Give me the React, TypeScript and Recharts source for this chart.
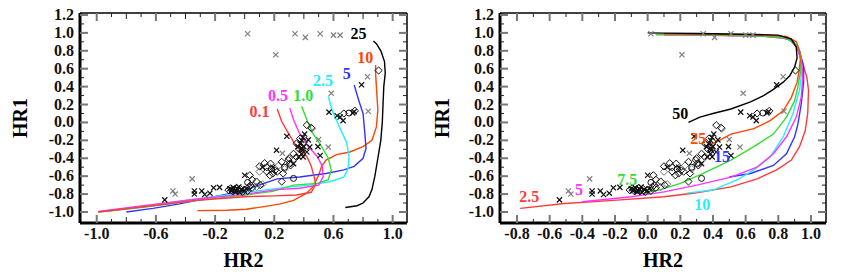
import { ScatterChart, Scatter, XAxis, YAxis } from "recharts";

const FONT = '"Liberation Serif", "Times New Roman", serif';

// axis ticks
const yTicks = [-1.0, -0.9, -0.8, -0.7, -0.6, -0.5, -0.4, -0.3, -0.2, -0.1, 0.0, 0.1, 0.2, 0.3, 0.4, 0.5, 0.6, 0.7, 0.8, 0.9, 1.0, 1.1, 1.2];
const yLabels = [-1.0, -0.8, -0.6, -0.4, -0.2, 0.0, 0.2, 0.4, 0.6, 0.8, 1.0, 1.2];
const leftXTicks = [-1.0, -0.9, -0.8, -0.7, -0.6, -0.5, -0.4, -0.3, -0.2, -0.1, 0.0, 0.1, 0.2, 0.3, 0.4, 0.5, 0.6, 0.7, 0.8, 0.9, 1.0];
const leftXLabels = [-1.0, -0.6, -0.2, 0.2, 0.6, 1.0];
const rightXTicks = [-0.8, -0.7, -0.6, -0.5, -0.4, -0.3, -0.2, -0.1, 0.0, 0.1, 0.2, 0.3, 0.4, 0.5, 0.6, 0.7, 0.8, 0.9, 1.0];
const rightXLabels = [-0.8, -0.6, -0.4, -0.2, 0.0, 0.2, 0.4, 0.6, 0.8, 1.0];

// observed sources (same in both panels)
const grayCrosses = [
  [0.02, 0.99], [0.34, 0.99], [0.41, 0.95], [0.51, 0.99], [0.6, 0.975], [0.645, 0.975], [0.21, 0.755],
  [0.585, 0.325], [0.835, 0.125], [0.83, 0.51], [0.565, -0.275], [0.5, -0.19], [-0.355, -0.63],
  [-0.485, -0.765], [-0.47, -0.8], [0.255, -0.345],
];
const blackCrosses = [
  [0.79, 0.42], [0.74, 0.12], [0.73, 0.105], [0.645, 0.06], [0.665, 0.02], [0.625, 0.075], [0.57, 0.115],
  [0.51, -0.37], [0.495, -0.27], [0.44, -0.275], [0.43, -0.195], [0.285, -0.155], [0.215, -0.31],
  [0.36, -0.27], [0.375, -0.24], [0.385, -0.2], [0.395, -0.165], [0.405, -0.13], [0.385, -0.29],
  [0.385, -0.35], [0.365, -0.385], [0.395, -0.385], [0.42, -0.33], [0.39, -0.31], [0.4, -0.27],
  [-0.54, -0.865], [-0.34, -0.765], [-0.34, -0.8], [-0.29, -0.765], [-0.27, -0.805], [-0.235, -0.79],
  [-0.21, -0.73], [-0.17, -0.725], [0.0, -0.59], [0.12, -0.5], [0.19, -0.5], [0.33, -0.46],
  [-0.1, -0.74], [-0.09, -0.765], [-0.075, -0.73], [-0.065, -0.775], [-0.05, -0.745], [-0.04, -0.72],
  [-0.035, -0.78], [-0.02, -0.75], [-0.005, -0.765], [0.01, -0.74], [-0.085, -0.75], [-0.06, -0.76],
];
const blackDiamonds = [
  [0.905, 0.58], [0.67, 0.1], [0.745, 0.13], [0.42, -0.03], [0.45, -0.06], [0.35, -0.235], [0.4, -0.22],
  [0.35, -0.385], [0.15, -0.5], [0.175, -0.46], [0.205, -0.535], [0.25, -0.44], [0.26, -0.57], [0.15, -0.55],
  [0.17, -0.59], [0.295, -0.42], [0.305, -0.46], [0.25, -0.66], [0.035, -0.59], [0.05, -0.64], [0.08, -0.66],
  [0.105, -0.7], [0.1, -0.49], [0.135, -0.455], [0.31, -0.48], [0.3, -0.4], [0.37, -0.3], [0.375, -0.18],
  [0.33, -0.35], [0.22, -0.55], [0.19, -0.57],
  [-0.11, -0.755], [-0.095, -0.735], [-0.08, -0.77], [-0.07, -0.745], [-0.055, -0.73], [-0.045, -0.765],
  [-0.03, -0.74], [-0.015, -0.775], [0.0, -0.75], [-0.065, -0.755], [0.02, -0.765], [0.03, -0.72],
  [0.05, -0.73], [0.04, -0.7],
];
const grayDiamonds = [
  [0.455, -0.07], [0.31, -0.45], [0.12, -0.69], [0.27, -0.52], [0.23, -0.48], [0.08, -0.72], [0.385, -0.32], [0.1, -0.55],
];
const circles = [[0.33, -0.625], [0.705, 0.105], [0.02, -0.67], [0.27, -0.5], [0.18, -0.52]];

// model tracks, left panel
const leftBlack = [[0.68, -0.95], [0.76, -0.93], [0.8, -0.9], [0.84, -0.83], [0.86, -0.75], [0.88, -0.6], [0.9, -0.4], [0.92, -0.2], [0.93, 0.0], [0.935, 0.2], [0.94, 0.4], [0.95, 0.55], [0.945, 0.68], [0.92, 0.8], [0.89, 0.88], [0.87, 0.91]];
const leftOrange = [[-0.32, -0.985], [-0.12, -0.98], [0.01, -0.97], [0.13, -0.94], [0.24, -0.91], [0.33, -0.87], [0.42, -0.79], [0.46, -0.72], [0.5, -0.59], [0.52, -0.49], [0.55, -0.42], [0.62, -0.36], [0.71, -0.33], [0.8, -0.27], [0.86, -0.2], [0.89, -0.05], [0.9, 0.14], [0.89, 0.4], [0.885, 0.55], [0.885, 0.64]];
const leftBlue = [[-0.8, -1.0], [-0.62, -0.96], [-0.44, -0.91], [-0.3, -0.86], [-0.12, -0.8], [0.0, -0.76], [0.08, -0.71], [0.15, -0.67], [0.22, -0.63], [0.37, -0.61], [0.55, -0.57], [0.67, -0.53], [0.74, -0.49], [0.8, -0.4], [0.82, -0.29], [0.81, -0.08], [0.8, 0.1], [0.77, 0.25], [0.74, 0.42]];
const leftCyan = [[-0.92, -0.99], [-0.62, -0.92], [-0.35, -0.86], [-0.12, -0.81], [0.06, -0.77], [0.18, -0.745], [0.28, -0.725], [0.44, -0.7], [0.58, -0.66], [0.67, -0.61], [0.7, -0.51], [0.705, -0.38], [0.69, -0.23], [0.64, -0.05], [0.59, 0.14], [0.565, 0.29]];
const leftGreen = [[-0.99, -1.0], [-0.7, -0.95], [-0.32, -0.87], [0.01, -0.81], [0.19, -0.77], [0.33, -0.7], [0.49, -0.68], [0.565, -0.64], [0.585, -0.53], [0.565, -0.4], [0.52, -0.27], [0.46, -0.12], [0.42, 0.03], [0.385, 0.18]];
const leftMagenta = [[-0.99, -0.995], [-0.71, -0.935], [-0.32, -0.855], [0.01, -0.8], [0.22, -0.75], [0.37, -0.735], [0.5, -0.7], [0.53, -0.61], [0.525, -0.49], [0.49, -0.38], [0.43, -0.27], [0.37, -0.12], [0.33, 0.03], [0.305, 0.16]];
const leftRed = [[-0.99, -1.0], [-0.7, -0.945], [-0.32, -0.87], [0.0, -0.83], [0.2, -0.82], [0.35, -0.81], [0.45, -0.78], [0.48, -0.69], [0.47, -0.61], [0.45, -0.49], [0.42, -0.38], [0.35, -0.27], [0.295, -0.12], [0.25, 0.01], [0.22, 0.15]];

// model tracks, right panel
const rightBlack = [[0.0, 1.0], [0.1, 0.997], [0.3, 0.993], [0.6, 0.985], [0.8, 0.975], [0.88, 0.93], [0.91, 0.84], [0.915, 0.72], [0.9, 0.62], [0.87, 0.52], [0.83, 0.45], [0.77, 0.37], [0.71, 0.3], [0.63, 0.23], [0.51, 0.15], [0.4, 0.1], [0.32, 0.06], [0.25, 0.0]];
const rightOrange = [[0.1, 0.99], [0.4, 0.985], [0.7, 0.975], [0.85, 0.96], [0.91, 0.9], [0.93, 0.8], [0.935, 0.7], [0.925, 0.55], [0.915, 0.45], [0.88, 0.28], [0.83, 0.13], [0.75, 0.02], [0.65, -0.07], [0.51, -0.13], [0.44, -0.2], [0.38, -0.25]];
const rightGreen = [[0.05, 0.98], [0.4, 0.975], [0.7, 0.965], [0.85, 0.94], [0.92, 0.85], [0.94, 0.72], [0.935, 0.55], [0.92, 0.4], [0.9, 0.24], [0.85, 0.06], [0.77, -0.13], [0.65, -0.27], [0.51, -0.42], [0.34, -0.57], [0.2, -0.68], [0.08, -0.75], [-0.02, -0.79]];
const rightMagenta = [[-0.4, -0.885], [-0.1, -0.83], [0.1, -0.775], [0.3, -0.7], [0.51, -0.61], [0.67, -0.5], [0.77, -0.35], [0.85, -0.16], [0.91, 0.06], [0.94, 0.28], [0.95, 0.5], [0.945, 0.65], [0.92, 0.82], [0.87, 0.93], [0.7, 0.965], [0.4, 0.972], [0.1, 0.975]];
const rightCyan = [[0.24, -0.79], [0.4, -0.755], [0.55, -0.64], [0.65, -0.53], [0.75, -0.385], [0.83, -0.16], [0.89, 0.1], [0.93, 0.36], [0.945, 0.58], [0.935, 0.75], [0.91, 0.87], [0.85, 0.945], [0.7, 0.97], [0.4, 0.978], [0.1, 0.98]];
const rightBlue = [[0.5, -0.61], [0.63, -0.57], [0.77, -0.48], [0.85, -0.35], [0.9, -0.16], [0.92, -0.02], [0.94, 0.2], [0.955, 0.45], [0.955, 0.62], [0.93, 0.8], [0.89, 0.91], [0.8, 0.96], [0.5, 0.975], [0.2, 0.98]];
const rightRed = [[-0.78, -0.96], [-0.51, -0.905], [-0.21, -0.87], [0.1, -0.83], [0.3, -0.785], [0.51, -0.72], [0.67, -0.63], [0.79, -0.53], [0.88, -0.42], [0.93, -0.27], [0.965, -0.09], [0.98, 0.1], [0.985, 0.36], [0.975, 0.5], [0.945, 0.69], [0.91, 0.85], [0.86, 0.94], [0.7, 0.965], [0.3, 0.975], [0.05, 0.98]];

const RED = "#ff3a3a";
const ORANGE = "#ff4500";
const BLUE = "#3333ff";
const CYAN = "#22eeff";
const GREEN = "#33dd33";
const MAGENTA = "#ff33ff";

const leftCurves = [
  { data: leftBlack, color: "#000" },
  { data: leftOrange, color: ORANGE },
  { data: leftBlue, color: BLUE },
  { data: leftCyan, color: CYAN },
  { data: leftGreen, color: GREEN },
  { data: leftMagenta, color: MAGENTA },
  { data: leftRed, color: RED },
];
const rightCurves = [
  { data: rightRed, color: RED },
  { data: rightBlue, color: BLUE },
  { data: rightCyan, color: CYAN },
  { data: rightMagenta, color: MAGENTA },
  { data: rightGreen, color: GREEN },
  { data: rightOrange, color: ORANGE },
  { data: rightBlack, color: "#000" },
];

const leftTags = [
  { x: 0.77, y: 0.985, text: "25", color: "#000" },
  { x: 0.815, y: 0.725, text: "10", color: ORANGE },
  { x: 0.69, y: 0.54, text: "5", color: BLUE },
  { x: 0.53, y: 0.465, text: "2.5", color: CYAN },
  { x: 0.395, y: 0.3, text: "1.0", color: GREEN },
  { x: 0.225, y: 0.3, text: "0.5", color: MAGENTA },
  { x: 0.1, y: 0.115, text: "0.1", color: RED },
];
const rightTags = [
  { x: 0.2, y: 0.095, text: "50", color: "#000" },
  { x: 0.31, y: -0.18, text: "25", color: ORANGE },
  { x: 0.455, y: -0.385, text: "15", color: BLUE },
  { x: 0.335, y: -0.92, text: "10", color: CYAN },
  { x: -0.125, y: -0.645, text: "7.5", color: GREEN },
  { x: -0.42, y: -0.755, text: "5", color: MAGENTA },
  { x: -0.725, y: -0.83, text: "2.5", color: RED },
];

const pts = (a: number[][]) => a.map(([x, y]) => ({ x, y }));
const has = (list: number[], v: number) => list.some((l) => Math.abs(l - v) < 1e-6);
const fmt = (v: number) => (Math.abs(v) < 1e-9 ? "0.0" : v.toFixed(1));

function tickStyle(labels: number[], v: number, evenMedium: boolean) {
  if (has(labels, v)) return { len: 8, stroke: "#777", w: 2 };
  const even = Math.round(v * 10) % 2 === 0;
  return { len: even && evenMedium ? 6 : 4, stroke: "#222", w: 1 };
}

const labelText = { fontFamily: FONT, fontWeight: "bold" as const, fontSize: 16, fill: "#111" };

function BottomTick({ x, y, payload, labels }: any) {
  const v = payload.value;
  const s = tickStyle(labels, v, true);
  return (
    <g>
      <line x1={x} y1={y} x2={x} y2={y - s.len} stroke={s.stroke} strokeWidth={s.w} />
      {has(labels, v) && (
        <text x={x} y={y + 16} textAnchor="middle" {...labelText}>{fmt(v)}</text>
      )}
    </g>
  );
}

function TopTick({ x, y, payload, labels }: any) {
  const s = tickStyle(labels, payload.value, true);
  return <line x1={x} y1={y} x2={x} y2={y + s.len} stroke={s.stroke} strokeWidth={s.w} />;
}

function LeftTick({ x, y, payload }: any) {
  const v = payload.value;
  const s = tickStyle(yLabels, v, false);
  return (
    <g>
      <line x1={x} y1={y} x2={x + s.len} y2={y} stroke={s.stroke} strokeWidth={s.w} />
      {has(yLabels, v) && (
        <text x={x - 6} y={y + 5} textAnchor="end" {...labelText}>{fmt(v)}</text>
      )}
    </g>
  );
}

function RightTick({ x, y, payload }: any) {
  const s = tickStyle(yLabels, payload.value, false);
  return <line x1={x} y1={y} x2={x - s.len} y2={y} stroke={s.stroke} strokeWidth={s.w} />;
}

const Nothing = () => <g />;

const makeMark = (kind: string, color: string) => (p: any) => {
  const { cx, cy } = p;
  if (kind === "cross") {
    const r = 2.6;
    return <path d={`M${cx - r},${cy - r}L${cx + r},${cy + r}M${cx - r},${cy + r}L${cx + r},${cy - r}`} stroke={color} strokeWidth={1.2} fill="none" />;
  }
  if (kind === "diamond") {
    const r = 3.6;
    return <path d={`M${cx},${cy - r}L${cx + r},${cy}L${cx},${cy + r}L${cx - r},${cy}Z`} stroke={color} strokeWidth={1} fill="none" />;
  }
  return <circle cx={cx} cy={cy} r={3} stroke={color} strokeWidth={1} fill="none" />;
};

const TagShape = (p: any) => (
  <text x={p.cx} y={p.cy + 5} textAnchor="middle" fontFamily={FONT} fontWeight="bold" fontSize={16} fill={p.payload.color}>
    {p.payload.text}
  </text>
);

function HR1({ viewBox, shift }: any) {
  const cx = viewBox.x + shift;
  const cy = viewBox.y + viewBox.height / 2;
  return (
    <text x={cx} y={cy} transform={`rotate(-90 ${cx} ${cy})`} textAnchor="middle" dominantBaseline="central"
      fontFamily={FONT} fontWeight="bold" fontSize={20} fill="#000">
      HR1
    </text>
  );
}

function Panel({ width, yAxisWidth, marginRight, xDomain, xTicks, xLabels, curves, tags, hr1Shift }: any) {
  const yDomain = [-1.123, 1.222];
  return (
    <ScatterChart width={width} height={274} margin={{ top: 13, right: marginRight, bottom: 0, left: 0 }}>
      <XAxis xAxisId="b" type="number" dataKey="x" domain={xDomain} ticks={xTicks} interval={0} allowDataOverflow
        height={51} tickSize={0} tickMargin={0} tickLine={false} axisLine={{ stroke: "#000", strokeWidth: 3 }}
        tick={(p: any) => <BottomTick {...p} labels={xLabels} />}
        label={{ value: "HR2", position: "insideBottom", offset: 7, fontFamily: FONT, fontWeight: "bold", fontSize: 20, fill: "#000" }} />
      <XAxis xAxisId="t" orientation="top" mirror type="number" dataKey="x" domain={xDomain} ticks={xTicks} interval={0} allowDataOverflow
        height={20} tickSize={0} tickMargin={0} tickLine={false} axisLine={{ stroke: "#000", strokeWidth: 1.5 }}
        tick={(p: any) => <TopTick {...p} labels={xLabels} />} />
      <YAxis yAxisId="l" type="number" dataKey="y" domain={yDomain} ticks={yTicks} interval={0} allowDataOverflow
        width={yAxisWidth} tickSize={0} tickMargin={0} tickLine={false} axisLine={{ stroke: "#000", strokeWidth: 3 }}
        tick={(p: any) => <LeftTick {...p} />}
        label={(p: any) => <HR1 {...p} shift={hr1Shift} />} />
      <YAxis yAxisId="r" orientation="right" mirror type="number" dataKey="y" domain={yDomain} ticks={yTicks} interval={0} allowDataOverflow
        width={20} tickSize={0} tickMargin={0} tickLine={false} axisLine={{ stroke: "#000", strokeWidth: 1.5 }}
        tick={(p: any) => <RightTick {...p} />} />
      {curves.map((c: any, i: number) => (
        <Scatter key={"c" + i} xAxisId="b" yAxisId="l" data={pts(c.data)} fill={c.color}
          line={{ stroke: c.color, strokeWidth: 1.4 }} shape={Nothing} isAnimationActive={false} />
      ))}
      <Scatter xAxisId="b" yAxisId="l" data={pts(grayDiamonds)} shape={makeMark("diamond", "#7a7a7a")} isAnimationActive={false} />
      <Scatter xAxisId="b" yAxisId="l" data={pts(blackDiamonds)} shape={makeMark("diamond", "#111")} isAnimationActive={false} />
      <Scatter xAxisId="b" yAxisId="l" data={pts(circles)} shape={makeMark("circle", "#111")} isAnimationActive={false} />
      <Scatter xAxisId="b" yAxisId="l" data={pts(grayCrosses)} shape={makeMark("cross", "#808080")} isAnimationActive={false} />
      <Scatter xAxisId="b" yAxisId="l" data={pts(blackCrosses)} shape={makeMark("cross", "#111")} isAnimationActive={false} />
      <Scatter xAxisId="b" yAxisId="l" data={tags} shape={TagShape} isAnimationActive={false} />
    </ScatterChart>
  );
}

export default function App() {
  return (
    <div style={{ position: "absolute", left: 0, top: 0, width: 858, height: 274, background: "#fff" }}>
      <div style={{ position: "absolute", left: 0, top: 0 }}>
        <Panel width={430} yAxisWidth={80} marginRight={23} xDomain={[-1.113, 1.097]}
          xTicks={leftXTicks} xLabels={leftXLabels} curves={leftCurves} tags={leftTags} hr1Shift={20} />
      </div>
      <div style={{ position: "absolute", left: 430, top: 0 }}>
        <Panel width={428} yAxisWidth={70} marginRight={32} xDomain={[-0.904, 1.092]}
          xTicks={rightXTicks} xLabels={rightXLabels} curves={rightCurves} tags={rightTags} hr1Shift={12} />
      </div>
    </div>
  );
}
